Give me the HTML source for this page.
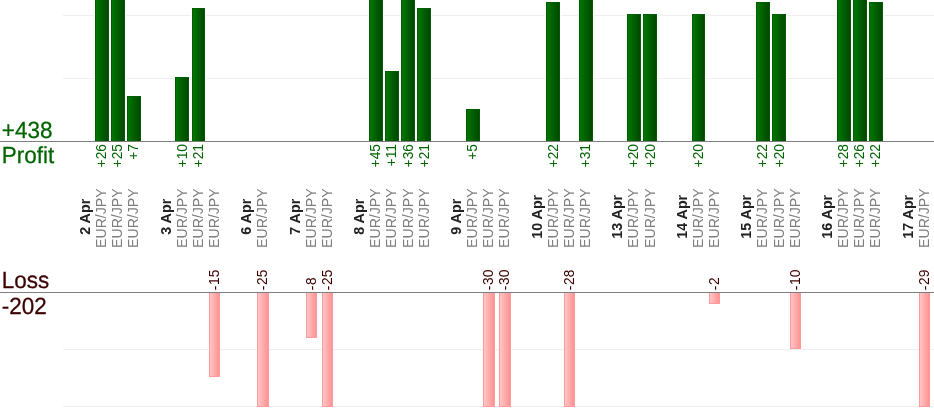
<!DOCTYPE html>
<html><head><meta charset="utf-8"><title>Profit / Loss</title>
<style>
html,body{margin:0;padding:0;background:#fff;}
body{width:934px;height:420px;overflow:hidden;position:relative;font-family:"Liberation Sans",sans-serif;}
#c{position:absolute;left:0;top:0;width:934px;height:420px;overflow:hidden;}
.g{position:absolute;left:63px;right:0;height:1px;background:#efefef;}
.ax{position:absolute;left:0;right:0;height:1px;background:#7f7f7f;}
.b{position:absolute;box-sizing:border-box;}
.p{box-shadow:0 0 0 1px #fff;border:1px solid #005c00;border-bottom:none;background:linear-gradient(to right,#007600,#004800);}
.l{border:1px solid #ff9a9a;border-top:none;background:linear-gradient(to right,#ffc6c6,#ff9393);}
svg{position:absolute;left:0;top:0;}
svg text{font-family:"Liberation Sans",sans-serif;font-size:13.8px;}
svg text.t{font-size:22.5px;text-rendering:geometricPrecision;}
.tp{fill:#006400;stroke:#006400;stroke-width:0.25px;}
.tl{fill:#3c0000;stroke:#3c0000;stroke-width:0.25px;}
svg text.d{font-weight:bold;fill:#222;font-size:14.3px;}
svg text.e{fill:#7e7e7e;font-size:14.15px;}
.pl{fill:#006400;}
.ll{fill:#3c0000;}
</style></head><body><div id="c">
<div class="g" style="top:15px"></div>
<div class="g" style="top:78px"></div>
<div class="g" style="top:349px"></div>
<div class="g" style="top:406px"></div>
<div class="b p" style="left:95px;top:-5px;width:14px;height:146px"></div>
<div class="b p" style="left:111px;top:-5px;width:14px;height:146px"></div>
<div class="b p" style="left:127px;top:96px;width:14px;height:45px"></div>
<div class="b p" style="left:175px;top:77px;width:14px;height:64px"></div>
<div class="b p" style="left:192px;top:8px;width:13px;height:133px"></div>
<div class="b l" style="left:209px;top:293px;width:11px;height:84px"></div>
<div class="b l" style="left:257px;top:293px;width:12px;height:114px"></div>
<div class="b l" style="left:306px;top:293px;width:11px;height:45px"></div>
<div class="b l" style="left:322px;top:293px;width:11px;height:114px"></div>
<div class="b p" style="left:369px;top:-5px;width:14px;height:146px"></div>
<div class="b p" style="left:385px;top:71px;width:14px;height:70px"></div>
<div class="b p" style="left:401px;top:-5px;width:14px;height:146px"></div>
<div class="b p" style="left:417px;top:8px;width:14px;height:133px"></div>
<div class="b p" style="left:466px;top:109px;width:14px;height:32px"></div>
<div class="b l" style="left:483px;top:293px;width:12px;height:114px"></div>
<div class="b l" style="left:499px;top:293px;width:12px;height:114px"></div>
<div class="b p" style="left:546px;top:2px;width:14px;height:139px"></div>
<div class="b l" style="left:564px;top:293px;width:11px;height:114px"></div>
<div class="b p" style="left:579px;top:-5px;width:14px;height:146px"></div>
<div class="b p" style="left:627px;top:14px;width:14px;height:127px"></div>
<div class="b p" style="left:643px;top:14px;width:14px;height:127px"></div>
<div class="b p" style="left:692px;top:14px;width:13px;height:127px"></div>
<div class="b l" style="left:709px;top:293px;width:11px;height:11px"></div>
<div class="b p" style="left:756px;top:2px;width:14px;height:139px"></div>
<div class="b p" style="left:772px;top:14px;width:14px;height:127px"></div>
<div class="b l" style="left:790px;top:293px;width:11px;height:56px"></div>
<div class="b p" style="left:837px;top:-5px;width:14px;height:146px"></div>
<div class="b p" style="left:853px;top:-5px;width:14px;height:146px"></div>
<div class="b p" style="left:869px;top:2px;width:14px;height:139px"></div>
<div class="b l" style="left:919px;top:293px;width:11px;height:114px"></div>
<div class="ax" style="top:141px"></div>
<div class="ax" style="top:292px"></div>
<svg width="934" height="420" viewBox="0 0 934 420">
<text class="t tp" transform="translate(1.8,138) scale(1,1.04)">+438</text>
<text class="t tp" transform="translate(1.8,163) scale(1,1.035)">Profit</text>
<text class="t tl" transform="translate(1.8,288) scale(1,1.035)">Loss</text>
<text class="t tl" transform="translate(1.8,314) scale(1,1.04)">-202</text>
<text class="d" transform="translate(90.00,216.8) rotate(-90) scale(1,1.0)" text-anchor="middle">2 Apr</text>
<text class="e" transform="translate(106.00,248) rotate(-90) scale(1,1.0)">EUR/JPY</text>
<text class="pl" transform="translate(106.00,144) rotate(-90) scale(1,1.0)" text-anchor="end">+26</text>
<text class="e" transform="translate(122.00,248) rotate(-90) scale(1,1.0)">EUR/JPY</text>
<text class="pl" transform="translate(122.00,144) rotate(-90) scale(1,1.0)" text-anchor="end">+25</text>
<text class="e" transform="translate(138.00,248) rotate(-90) scale(1,1.0)">EUR/JPY</text>
<text class="pl" transform="translate(138.00,144) rotate(-90) scale(1,1.0)" text-anchor="end">+7</text>
<text class="d" transform="translate(171.00,216.8) rotate(-90) scale(1,1.0)" text-anchor="middle">3 Apr</text>
<text class="e" transform="translate(187.00,248) rotate(-90) scale(1,1.0)">EUR/JPY</text>
<text class="pl" transform="translate(187.00,144) rotate(-90) scale(1,1.0)" text-anchor="end">+10</text>
<text class="e" transform="translate(203.00,248) rotate(-90) scale(1,1.0)">EUR/JPY</text>
<text class="pl" transform="translate(203.00,144) rotate(-90) scale(1,1.0)" text-anchor="end">+21</text>
<text class="e" transform="translate(219.00,248) rotate(-90) scale(1,1.0)">EUR/JPY</text>
<text class="ll" transform="translate(219.90,290.5) rotate(-90) scale(1.05,1.0)">-</text>
<text class="ll" transform="translate(219.00,284.90) rotate(-90) scale(1,1.0)">15</text>
<text class="d" transform="translate(251.00,216.8) rotate(-90) scale(1,1.0)" text-anchor="middle">6 Apr</text>
<text class="e" transform="translate(267.00,248) rotate(-90) scale(1,1.0)">EUR/JPY</text>
<text class="ll" transform="translate(267.90,290.5) rotate(-90) scale(1.05,1.0)">-</text>
<text class="ll" transform="translate(267.00,284.90) rotate(-90) scale(1,1.0)">25</text>
<text class="d" transform="translate(300.00,216.8) rotate(-90) scale(1,1.0)" text-anchor="middle">7 Apr</text>
<text class="e" transform="translate(316.00,248) rotate(-90) scale(1,1.0)">EUR/JPY</text>
<text class="ll" transform="translate(316.90,290.5) rotate(-90) scale(1.05,1.0)">-</text>
<text class="ll" transform="translate(316.00,284.90) rotate(-90) scale(1,1.0)">8</text>
<text class="e" transform="translate(332.00,248) rotate(-90) scale(1,1.0)">EUR/JPY</text>
<text class="ll" transform="translate(332.90,290.5) rotate(-90) scale(1.05,1.0)">-</text>
<text class="ll" transform="translate(332.00,284.90) rotate(-90) scale(1,1.0)">25</text>
<text class="d" transform="translate(364.00,216.8) rotate(-90) scale(1,1.0)" text-anchor="middle">8 Apr</text>
<text class="e" transform="translate(380.00,248) rotate(-90) scale(1,1.0)">EUR/JPY</text>
<text class="pl" transform="translate(380.00,144) rotate(-90) scale(1,1.0)" text-anchor="end">+45</text>
<text class="e" transform="translate(396.00,248) rotate(-90) scale(1,1.0)">EUR/JPY</text>
<text class="pl" transform="translate(396.00,144) rotate(-90) scale(1,1.0)" text-anchor="end">+11</text>
<text class="e" transform="translate(413.00,248) rotate(-90) scale(1,1.0)">EUR/JPY</text>
<text class="pl" transform="translate(413.00,144) rotate(-90) scale(1,1.0)" text-anchor="end">+36</text>
<text class="e" transform="translate(429.00,248) rotate(-90) scale(1,1.0)">EUR/JPY</text>
<text class="pl" transform="translate(429.00,144) rotate(-90) scale(1,1.0)" text-anchor="end">+21</text>
<text class="d" transform="translate(461.00,216.8) rotate(-90) scale(1,1.0)" text-anchor="middle">9 Apr</text>
<text class="e" transform="translate(477.00,248) rotate(-90) scale(1,1.0)">EUR/JPY</text>
<text class="pl" transform="translate(477.00,144) rotate(-90) scale(1,1.0)" text-anchor="end">+5</text>
<text class="e" transform="translate(493.00,248) rotate(-90) scale(1,1.0)">EUR/JPY</text>
<text class="ll" transform="translate(493.90,290.5) rotate(-90) scale(1.05,1.0)">-</text>
<text class="ll" transform="translate(493.00,284.90) rotate(-90) scale(1,1.0)">30</text>
<text class="e" transform="translate(509.00,248) rotate(-90) scale(1,1.0)">EUR/JPY</text>
<text class="ll" transform="translate(509.90,290.5) rotate(-90) scale(1.05,1.0)">-</text>
<text class="ll" transform="translate(509.00,284.90) rotate(-90) scale(1,1.0)">30</text>
<text class="d" transform="translate(542.00,216.8) rotate(-90) scale(1,1.0)" text-anchor="middle">10 Apr</text>
<text class="e" transform="translate(558.00,248) rotate(-90) scale(1,1.0)">EUR/JPY</text>
<text class="pl" transform="translate(558.00,144) rotate(-90) scale(1,1.0)" text-anchor="end">+22</text>
<text class="e" transform="translate(574.00,248) rotate(-90) scale(1,1.0)">EUR/JPY</text>
<text class="ll" transform="translate(574.90,290.5) rotate(-90) scale(1.05,1.0)">-</text>
<text class="ll" transform="translate(574.00,284.90) rotate(-90) scale(1,1.0)">28</text>
<text class="e" transform="translate(590.00,248) rotate(-90) scale(1,1.0)">EUR/JPY</text>
<text class="pl" transform="translate(590.00,144) rotate(-90) scale(1,1.0)" text-anchor="end">+31</text>
<text class="d" transform="translate(622.00,216.8) rotate(-90) scale(1,1.0)" text-anchor="middle">13 Apr</text>
<text class="e" transform="translate(638.00,248) rotate(-90) scale(1,1.0)">EUR/JPY</text>
<text class="pl" transform="translate(638.00,144) rotate(-90) scale(1,1.0)" text-anchor="end">+20</text>
<text class="e" transform="translate(655.00,248) rotate(-90) scale(1,1.0)">EUR/JPY</text>
<text class="pl" transform="translate(655.00,144) rotate(-90) scale(1,1.0)" text-anchor="end">+20</text>
<text class="d" transform="translate(687.00,216.8) rotate(-90) scale(1,1.0)" text-anchor="middle">14 Apr</text>
<text class="e" transform="translate(703.00,248) rotate(-90) scale(1,1.0)">EUR/JPY</text>
<text class="pl" transform="translate(703.00,144) rotate(-90) scale(1,1.0)" text-anchor="end">+20</text>
<text class="e" transform="translate(719.00,248) rotate(-90) scale(1,1.0)">EUR/JPY</text>
<text class="ll" transform="translate(719.90,290.5) rotate(-90) scale(1.05,1.0)">-</text>
<text class="ll" transform="translate(719.00,284.90) rotate(-90) scale(1,1.0)">2</text>
<text class="d" transform="translate(751.00,216.8) rotate(-90) scale(1,1.0)" text-anchor="middle">15 Apr</text>
<text class="e" transform="translate(767.00,248) rotate(-90) scale(1,1.0)">EUR/JPY</text>
<text class="pl" transform="translate(767.00,144) rotate(-90) scale(1,1.0)" text-anchor="end">+22</text>
<text class="e" transform="translate(784.00,248) rotate(-90) scale(1,1.0)">EUR/JPY</text>
<text class="pl" transform="translate(784.00,144) rotate(-90) scale(1,1.0)" text-anchor="end">+20</text>
<text class="e" transform="translate(800.00,248) rotate(-90) scale(1,1.0)">EUR/JPY</text>
<text class="ll" transform="translate(800.90,290.5) rotate(-90) scale(1.05,1.0)">-</text>
<text class="ll" transform="translate(800.00,284.90) rotate(-90) scale(1,1.0)">10</text>
<text class="d" transform="translate(832.00,216.8) rotate(-90) scale(1,1.0)" text-anchor="middle">16 Apr</text>
<text class="e" transform="translate(848.00,248) rotate(-90) scale(1,1.0)">EUR/JPY</text>
<text class="pl" transform="translate(848.00,144) rotate(-90) scale(1,1.0)" text-anchor="end">+28</text>
<text class="e" transform="translate(864.00,248) rotate(-90) scale(1,1.0)">EUR/JPY</text>
<text class="pl" transform="translate(864.00,144) rotate(-90) scale(1,1.0)" text-anchor="end">+26</text>
<text class="e" transform="translate(880.00,248) rotate(-90) scale(1,1.0)">EUR/JPY</text>
<text class="pl" transform="translate(880.00,144) rotate(-90) scale(1,1.0)" text-anchor="end">+22</text>
<text class="d" transform="translate(913.00,216.8) rotate(-90) scale(1,1.0)" text-anchor="middle">17 Apr</text>
<text class="e" transform="translate(929.00,248) rotate(-90) scale(1,1.0)">EUR/JPY</text>
<text class="ll" transform="translate(929.90,290.5) rotate(-90) scale(1.05,1.0)">-</text>
<text class="ll" transform="translate(929.00,284.90) rotate(-90) scale(1,1.0)">29</text>
</svg>
</div></body></html>
